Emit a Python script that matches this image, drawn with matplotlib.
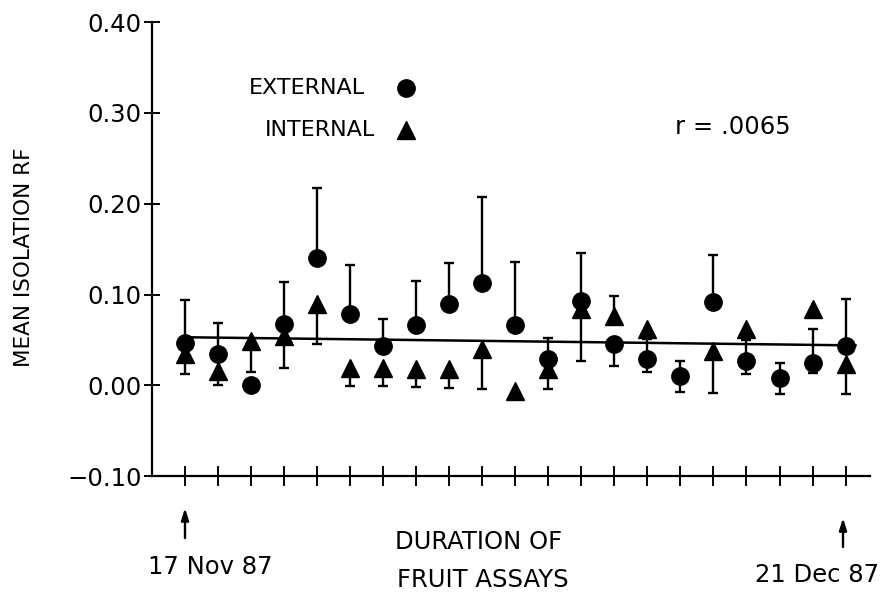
import matplotlib
matplotlib.use('agg')
import matplotlib.pyplot as plt
import numpy as np

nan = np.nan

# assay number along the x axis (17 Nov 87 .. 21 Dec 87)
assay = np.arange(1, 22)

external = [0.047, 0.034, 0.000, 0.068, 0.140, 0.079, 0.043, 0.066, 0.090, 0.113, 0.066,
            0.029, 0.093, 0.045, 0.029, 0.010, 0.092, 0.027, 0.008, 0.025, 0.043]
external_hi = [0.094, 0.069, nan, 0.114, 0.217, 0.133, 0.073, 0.115, 0.135, 0.207, 0.136,
               0.052, 0.146, nan, 0.051, 0.027, 0.144, 0.050, 0.025, 0.062, 0.095]
external_lo = [nan, nan, nan, nan, nan, nan, nan, nan, nan, nan, nan,
               nan, nan, 0.021, 0.015, -0.007, nan, 0.013, -0.009, 0.014, nan]

internal = [0.034, 0.016, 0.049, 0.054, 0.090, 0.019, 0.019, 0.018, 0.018, 0.040, -0.006,
            0.018, 0.084, 0.076, 0.062, nan, 0.038, 0.062, nan, 0.084, 0.023]
internal_hi = [nan, nan, nan, nan, nan, nan, nan, nan, nan, nan, nan,
               nan, nan, 0.098, nan, nan, nan, nan, nan, nan, nan]
internal_lo = [0.012, 0.000, 0.015, 0.019, 0.046, -0.001, -0.001, -0.002, -0.003, -0.004, nan,
               -0.004, 0.027, nan, nan, nan, -0.008, nan, nan, nan, -0.010]

reg_x = [1, 21.3]
reg_y = [0.053, 0.044]

yticks = [-0.10, 0.00, 0.10, 0.20, 0.30, 0.40]

FS = 17.5


def draw_bars(ax, vals, ends_list):
    # draw only the sides that exist, so no stray caps at the marker
    vals = np.array(vals, dtype=float)
    for ends in ends_list:
        ends = np.array(ends, dtype=float)
        ok = ~np.isnan(ends) & ~np.isnan(vals)
        x = assay[ok]
        ax.vlines(x, vals[ok], ends[ok], color='black', lw=1.7, zorder=2)
        ax.plot(x, ends[ok], ls='none', marker='_', ms=7.5, mew=1.7, color='black', zorder=2)


fig = plt.figure(figsize=(8.89, 5.96), dpi=100)
ax = fig.add_axes([0.171, 0.201, 0.808, 0.762])

draw_bars(ax, external, [external_hi, external_lo])
draw_bars(ax, internal, [internal_hi, internal_lo])

ax.plot(reg_x, reg_y, color='black', lw=1.8, zorder=1)
ax.plot(assay, external, ls='none', marker='o', ms=12.5, color='black', zorder=3)
ax.plot(assay, internal, ls='none', marker='^', ms=13, color='black', zorder=3)

ax.set_xlim(0, 21.75)
ax.set_ylim(-0.10, 0.40)
ax.set_yticks(yticks)
ax.set_yticklabels([f'{v:.2f}'.replace('-', '\u2212') for v in yticks])
ax.set_xticks(assay)
ax.set_xticklabels([])

for s in ['top', 'right']:
    ax.spines[s].set_visible(False)
ax.spines['left'].set_linewidth(1.6)
ax.spines['bottom'].set_linewidth(1.6)
ax.tick_params(axis='y', direction='inout', length=11, width=1.4, labelsize=FS, pad=2)
ax.tick_params(axis='x', direction='inout', length=15, width=1.4)

ax.set_ylabel('MEAN ISOLATION RF', fontsize=15.5)
ax.yaxis.set_label_coords(-0.164, 0.482)

# legend drawn by hand like the original
ax.text(6.45, 0.327, 'EXTERNAL', fontsize=16, ha='right', va='center')
ax.plot([7.7], [0.327], marker='o', ms=12.5, color='black', clip_on=False)
ax.text(6.75, 0.281, 'INTERNAL', fontsize=16, ha='right', va='center')
ax.plot([7.7], [0.281], marker='^', ms=13, color='black', clip_on=False)
ax.text(15.85, 0.285, 'r = .0065', fontsize=FS, ha='left', va='center')

# date marks under the axis
arrow = dict(arrowstyle='-|>,head_length=0.7,head_width=0.22', color='black', lw=1.7,
             shrinkA=0, shrinkB=0)
ax.annotate('', xy=(185 / 889, 1 - 508 / 596), xytext=(185 / 889, 1 - 538 / 596),
            xycoords='figure fraction', arrowprops=arrow)
ax.annotate('', xy=(843 / 889, 1 - 518 / 596), xytext=(843 / 889, 1 - 547 / 596),
            xycoords='figure fraction', arrowprops=arrow)
fig.text(210 / 889, 1 - 567 / 596, '17 Nov 87', fontsize=FS, ha='center', va='center')
fig.text(817 / 889, 1 - 575 / 596, '21 Dec 87', fontsize=FS, ha='center', va='center')
fig.text(395 / 889, 1 - 542 / 596, 'DURATION OF', fontsize=FS, ha='left', va='center')
fig.text(397 / 889, 1 - 580 / 596, 'FRUIT ASSAYS', fontsize=FS, ha='left', va='center')

fig.savefig('out.png', dpi=100)
